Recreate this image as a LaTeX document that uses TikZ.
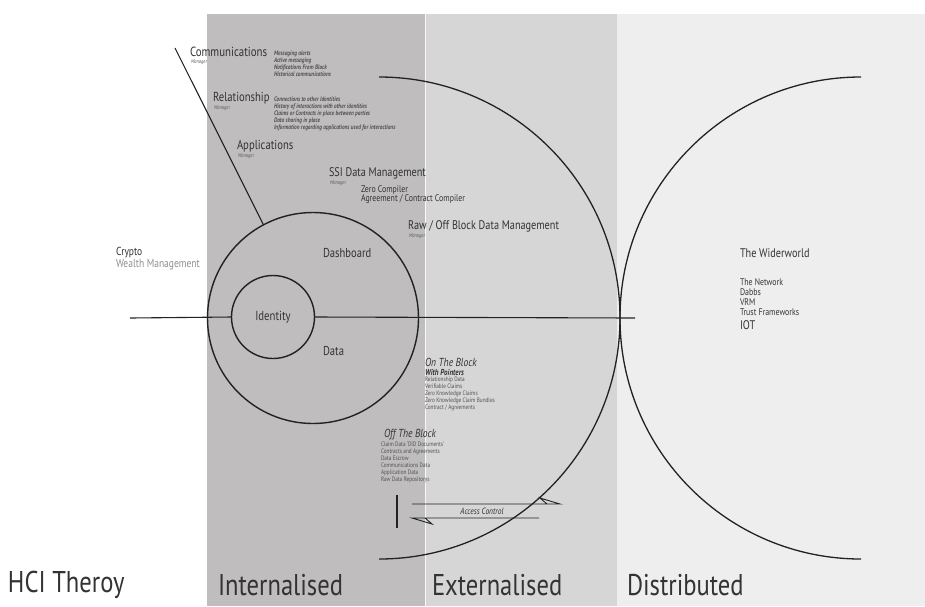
\documentclass[tikz,border=0pt]{standalone}
\usepackage{fontspec}
\setmainfont{PT Sans}[FakeStretch=0.82]
\begin{document}
\begin{tikzpicture}[x=1pt,y=-1pt,
  every node/.style={inner sep=0pt,outer sep=0pt},
  heading/.style={anchor=west,text=ink,font=\fontsize{12.5}{14}\selectfont},
  mgr/.style={anchor=west,text=ink!80,font=\fontsize{5.5}{6}\selectfont\itshape},
  featlist/.style={anchor=north west,align=left,text=ink!85,font=\fontsize{6.5}{7}\selectfont\itshape\bfseries},
  blocklist/.style={anchor=north west,align=left,text=ink!85,font=\fontsize{6.4}{7}\selectfont},
  zone/.style={anchor=west,text=ink,font=\fontsize{30}{34}\selectfont},
  ring/.style={circle,draw=lineink,line width=1.4pt},
  bigarc/.style={draw=lineink,line width=1.3pt},
  rule/.style={draw=lineink,line width=1.1pt}]
\definecolor{ink}{HTML}{333333}
\definecolor{lineink}{HTML}{222222}
\definecolor{intband}{HTML}{BFBDBE}
\definecolor{extband}{HTML}{D6D6D6}
\definecolor{disband}{HTML}{EFEEEF}
\useasboundingbox (0,0) rectangle (925,606);
\fill[white] (0,0) rectangle (925,606);

% the three zones
\fill[intband] (207,14) rectangle (425,606);
\fill[extband] (425,14) rectangle (617,606);
\fill[disband] (617,14) rectangle (925,606);
\draw[white!80!extband,line width=0.8pt] (425,14) -- (425,606);

% the externalised and distributed half circles
\draw[bigarc] (379,77) arc[start angle=90,end angle=-90,radius=241pt];
\draw[bigarc] (861,77) arc[start angle=90,end angle=270,radius=241pt];

% dashboard and identity circles
\node[ring,minimum size=211pt] (dash) at (313,318) {};
\node[ring,minimum size=83pt,font=\fontsize{13.1}{15}\selectfont,text=ink] (id) at (273,317) {Identity};

% axis through the identity
\coordinate (axl) at (130,318);
\coordinate (axr) at (635,318);
\draw[rule] (axl) -- (id.west);
\draw[rule] (id.east) -- (axr);

% spoke up to the managers
\coordinate (spoke) at (175,48);
\draw[rule] (spoke) -- (dash.118);

% managers
\node[heading,font=\fontsize{13.25}{15}\selectfont] (comm) at (190,51.5) {Communications};
\node[mgr] (commm) at (191,62) {Manager};
\node[featlist] (comml) at (274,51) {Messaging alerts\\Active messaging\\Notifications From Block\\Historical communications};

\node[heading,font=\fontsize{13}{15}\selectfont] (rel) at (213,98.5) {Relationship};
\node[mgr] (relm) at (214,108) {Manager};
\node[featlist] (rell) at (274,97) {Connections to other Identities\\History of interactions with other identities\\Claims or Contracts in place between parties\\Data sharing in place\\Information regarding applications used for interactions};

\node[heading,font=\fontsize{13}{15}\selectfont] (app) at (237,146.5) {Applications};
\node[mgr] (appm) at (238,156) {Manager};

\node[heading] (ssi) at (329,173.5) {SSI Data Management};
\node[mgr] (ssim) at (330,183) {Manager};
\node[anchor=north west,align=left,text=ink,font=\fontsize{9.6}{9}\selectfont] (comp) at (361,186) {Zero Compiler\\Agreement / Contract Compiler};

\node[heading] (raw) at (408,226.5) {Raw / Off Block Data Management};
\node[mgr] (rawm) at (409,236) {Manager};

% wealth
\node[anchor=west,text=ink,font=\fontsize{11.6}{13}\selectfont] (crypto) at (116,253) {Crypto};
\node[anchor=west,text=ink!55,font=\fontsize{11.6}{13}\selectfont] (wealth) at (116,265) {Wealth Management};

% inside the dashboard
\node[heading,font=\fontsize{12.9}{15}\selectfont] (dashl) at (323,253) {Dashboard};
\node[heading,font=\fontsize{12.9}{15}\selectfont] (datal) at (323,351) {Data};

% on the block
\node[anchor=west,text=ink,font=\fontsize{11.6}{13}\selectfont\itshape] (onb) at (425,362) {On The Block};
\node[anchor=west,text=ink,font=\fontsize{8.6}{10}\selectfont\itshape\bfseries] (ptr) at (425,372) {With Pointers};
\node[blocklist] (onbl) at (425,377) {Relationship Data\\Verifiable Claims\\Zero Knowledge Claims\\Zero Knowledge Claim Bundles\\Contract / Agreements};

% off the block
\node[anchor=west,text=ink,font=\fontsize{11.6}{13}\selectfont\itshape] (offb) at (384,435) {Off The Block};
\node[blocklist] (offbl) at (381,442) {Claim Data `DID Documents'\\Contracts and Agreements\\Data Escrow\\Communications Data\\Application Data\\Raw Data Repositorys};

% access control
\coordinate (acbar1) at (397,495);
\coordinate (acbar2) at (397,528);
\draw[rule] (acbar1) -- (acbar2);
\coordinate (acu1) at (412,504);
\coordinate (acu2) at (560,504);
\coordinate (acub) at (540,498);
\coordinate (acuc) at (547,504);
\draw[rule,line width=0.9pt] (acu1) -- (acu2) -- (acub) -- (acuc);
\coordinate (acl1) at (539,518);
\coordinate (acl2) at (412,518);
\coordinate (aclb) at (432,524);
\coordinate (aclc) at (425,518);
\draw[rule,line width=0.9pt] (acl1) -- (acl2) -- (aclb) -- (aclc);
\node[text=ink,font=\fontsize{9.1}{11}\selectfont\itshape] (ac) at (482,511) {Access Control};

% the wider world
\node[heading] (wider) at (740,253) {The Widerworld};
\node[anchor=north west,align=left,text=ink,font=\fontsize{9.6}{10}\selectfont] (net) at (740,279) {The Network\\Dabbs\\VRM\\Trust Frameworks};
\node[heading] (iot) at (740,325) {IOT};

% zone labels
\node[zone] (hci) at (8,585) {HCI Theroy};
\node[zone] (intl) at (218,585) {Internalised};
\node[zone] (extl) at (432,585) {Externalised};
\node[zone] (disl) at (627,585) {Distributed};
\end{tikzpicture}
\end{document}
